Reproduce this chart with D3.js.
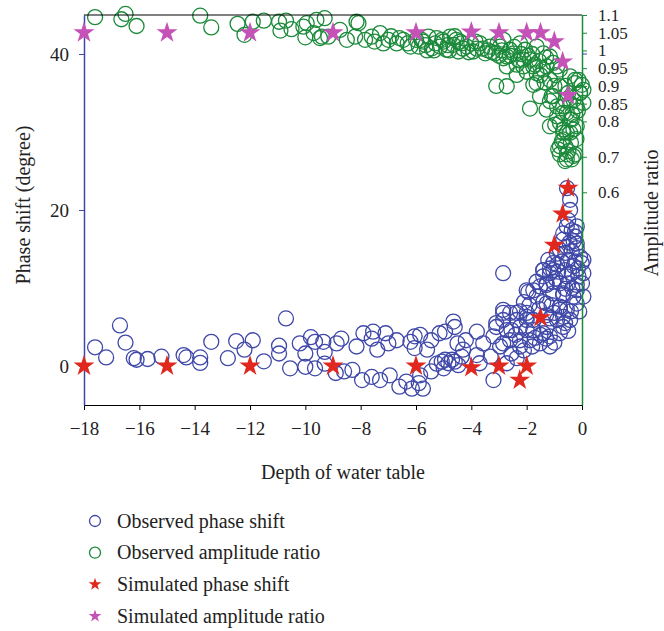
<!DOCTYPE html>
<html>
<head>
  <meta charset="utf-8">
  <script src="https://d3js.org/d3.v7.min.js"></script>
  <style>
    body { margin: 0; background: #fff; }
    text { font-family: "Liberation Serif", "DejaVu Serif", serif; }
  </style>
</head>
<body>
<script>
  // depth of water table ticks
  var depthTicks = [-18, -16, -14, -12, -10, -8, -6, -4, -2, 0];
  var phaseTicks = [0, 20, 40];
  var ratioTicks = [0.6, 0.7, 0.8, 0.85, 0.9, 0.95, 1, 1.05, 1.1];

  // simulated values
  var simPhaseDepth = [-18, -15, -12, -9, -6, -4, -3, -2.25, -2, -1.5, -1, -0.7, -0.5];
  var simPhase      = [0, 0, 0, 0, 0, -0.2, 0, -1.8, 0, 6.2, 15.5, 19.5, 22.8];
  var simRatioDepth = [-18, -15, -12, -9, -6, -4, -3, -2, -1.5, -1, -0.7, -0.5];
  var simRatio      = [1.05, 1.05, 1.05, 1.05, 1.05, 1.052, 1.05, 1.05, 1.05, 1.025, 0.968, 0.873];

  // observed phase shift [depth, degree]
  var obsPhase = [
    [-17.6,2.4],[-17.2,1.1],[-16.7,5.2],[-16.5,3.0],[-16.2,1.0],[-16.1,0.8],[-15.7,0.9],[-15.2,1.2],
    [-14.4,1.4],[-14.3,1.1],[-13.8,0.4],[-13.8,1.1],[-13.4,3.1],[-12.8,1.0],[-12.5,3.2],[-12.2,2.1],
    [-11.9,3.3],[-11.5,0.6],[-10.95,2.6],[-10.95,1.6],[-10.7,6.1],[-10.55,-0.3],[-10.2,2.9],[-10.0,1.6],
    [-10.0,-0.1],[-9.8,3.7],[-9.65,3.1],[-9.65,-0.3],[-9.35,3.1],[-9.3,1.8],[-9.3,0.3],
    [-8.87,2.9],[-8.7,3.5],[-8.15,2.5],[-7.9,4.2],[-7.6,3.5],[-7.55,4.4],[-7.4,2.1],[-7.1,4.2],
    [-7.0,2.9],[-6.7,3.3],[-6.2,3.1],[-6.05,3.8],[-5.85,4.0],[-6.05,2.3],[-5.6,2.1],[-5.45,3.3],
    [-5.15,4.2],[-4.95,4.4],[-4.65,5.7],[-4.6,5.0],[-4.5,2.9],[-4.2,3.3],[-3.8,4.4],[-3.57,2.9],
    [-3.2,3.8],[-3.1,5.5],[-2.85,6.8],[-2.85,2.9],[-2.55,4.6],[-2.36,5.9],[-2.24,3.3],[-2.0,6.8],
    [-2.0,4.6],[-2.55,1.6],[-2.36,1.0],[-3.3,1.2],
    [-8.9,-0.9],[-8.6,-0.7],[-8.3,-0.5],[-7.95,-1.8],[-7.6,-1.4],[-7.3,-1.8],[-6.95,-1.2],[-6.6,-2.65],
    [-6.35,-2.0],[-6.15,-2.9],[-5.9,-2.2],[-5.75,-2.9],[-5.85,-1.2],[-5.45,-0.7],[-5.25,0.3],[-5.07,0.55],
    [-4.95,0.8],[-4.83,0.35],[-4.7,0.8],[-4.6,0.55],[-4.47,0.1],[-4.35,1.2],[-5.0,-0.3],[-3.7,0.35],
    [-3.2,-1.8],[-3.8,1.4],[-2.72,0.35],[-4.3,2.1],[-2.96,2.5],
    [-2.85,11.9],[-0.55,17.9],[-0.37,17.4],[-0.25,16.6],[-0.68,16.2],[-0.9,14.4],[-0.8,14.9],[-0.55,15.3],
    [-0.37,14.7],[-0.19,15.1],[-0.07,14.0],[-1.22,13.6],[-1.04,13.2],[-0.73,13.4],[-0.5,13.6],[-0.25,13.4],
    [-0.01,13.2],[-1.4,12.3],[-1.16,11.9],[-0.86,12.1],[-0.61,12.3],[-0.37,11.9],[-0.13,11.5],[-1.76,9.7],
    [-1.94,9.5],[-1.52,10.2],[-1.28,10.6],[-1.04,10.8],[-0.8,10.6],[-0.5,10.6],[-0.19,10.4],[-1.04,9.3],
    [-0.68,9.1],[-0.31,8.9],[-1.4,8.2],[-1.1,7.8],[-0.8,7.6],[-0.55,7.2],[-0.19,8.0],[-2.6,6.8],
    [-2.24,7.0],[-2.0,6.3],[-1.76,5.9],[-1.16,6.1],[-0.9,5.9],[-0.61,5.5],[-1.28,5.0],[-2.24,5.0],
    [-2.72,4.6],[-1.4,4.2],[-1.16,3.8],[-1.52,2.9],[-1.16,2.5],[-0.8,4.2],[-0.68,5.0],[-1.88,3.3],
    [-2.24,2.5],[-2.6,3.3],[-2.85,5.9],[-3.1,5.0],[-2.85,7.2],[-2.36,6.8],[-2.0,5.9],[-1.76,4.6],
    [-0.68,6.3],[-0.43,5.9],[-1.28,8.0],[-0.8,7.2],[-1.64,8.9],[-1.28,10.4],[-0.68,9.3],[-0.19,9.7],
    [0.05,8.9],[0.05,11.9],[0.05,13.6],[-0.19,15.7],[-0.68,17.0],[-0.19,17.9],[-1.04,12.3],[-1.4,12.3],
    [-0.5,18.7],[-0.54,22.8],[-0.43,20.0],[-0.43,21.3],[-0.25,17.2],[-2.0,9.7],[-1.64,10.8],[-1.4,11.5],
    [-1.16,12.5],[0.0,10.6],
    [-0.3,16.0],[-0.45,15.8],[-0.6,14.5],[-0.3,12.8],[-0.15,12.5],[-0.9,13.0],[-0.55,11.5],[-0.95,11.2],
    [-0.35,10.0],[-0.6,9.9],[-0.1,7.0],[-0.4,7.0],[-1.0,6.8],[-1.3,6.5],[-1.55,7.3],[-1.9,7.8],
    [-2.1,8.2],[-1.5,4.0],[-1.0,3.0],[-1.3,3.5],[-0.5,4.5],[-1.7,3.6],[-2.4,4.0],[-2.1,2.0],[-1.8,2.5]
  ];

  // observed amplitude ratio [depth, ratio]
  var obsRatio = [
    [-17.6,1.094],[-16.65,1.088],[-16.5,1.103],[-16.1,1.069],[-13.8,1.098],[-13.4,1.065],[-12.45,1.075],
    [-12.2,1.044],[-11.9,1.081],[-11.5,1.084],[-10.95,1.081],[-10.9,1.056],[-10.7,1.084],[-10.5,1.06],
    [-10.07,1.067],[-10.0,1.037],[-9.7,1.049],[-9.6,1.086],[-9.3,1.091],[-9.47,1.035],[-9.17,1.039],
    [-9.95,1.077],[-9.4,1.039],[-8.75,1.058],[-8.5,1.03],[-8.08,1.077],[-8.2,1.039],[-7.84,1.03],
    [-7.6,1.039],[-7.3,1.049],[-7.18,1.02],[-7.0,1.03],[-6.7,1.02],[-6.46,1.03],[-6.2,1.011],[-5.9,1.011],
    [-5.74,1.025],[-5.55,1.039],[-5.43,1.006],[-5.25,1.035],[-5.13,1.011],[-5.0,1.025],[-4.9,1.002],
    [-4.77,1.039],[-4.65,1.016],[-4.47,0.997],[-4.41,1.025],[-4.17,1.011],[-3.93,0.997],[-3.69,1.02],
    [-3.5,0.992],[-3.33,1.011],[-3.14,0.992],[-2.96,1.011],[-2.84,0.978],[-2.72,0.955],[-2.48,0.992],
    [-2.3,0.974],[-2.06,1.002],[-2.12,0.955],[-3.1,0.9],[-8.15,1.081],
    [-6.0,1.03],[-5.6,1.0],[-5.3,1.02],[-4.85,1.015],[-4.55,1.03],[-4.3,1.005],[-4.0,1.02],[-3.8,1.005],
    [-3.4,1.0],[-3.0,0.985],
    [-1.88,0.836],[-1.76,0.903],[-2.36,0.96],[-2.72,0.983],[-1.88,0.974],[-1.64,0.936],[-1.4,0.992],
    [-1.28,0.955],[-1.16,0.917],[-0.9,0.955],[-0.8,0.899],[-1.1,0.871],[-0.9,0.842],[-0.68,0.824],
    [-0.43,0.805],[-0.43,0.852],[-0.25,0.917],[-0.07,0.88],[0.05,0.889],[0.05,0.852],[-0.19,0.786],
    [-0.43,0.768],[-0.68,0.749],[-0.8,0.73],[-0.8,0.707],[-0.55,0.693],[-0.31,0.702],[-0.49,0.716],
    [-0.68,0.768],[-1.16,0.786],[-0.8,0.796],
    [-1.64,0.908],[-2.36,0.931],[-2.72,0.899],[-1.04,0.871],[-1.16,0.857],[-0.9,0.814],[-0.97,0.791],
    [-0.68,0.842],[-0.55,0.824],[-0.37,0.805],[-0.19,0.842],[-0.07,0.88],[-0.01,0.903],[-0.25,0.908],
    [-0.31,0.777],[-0.55,0.768],[-0.73,0.744],[-0.86,0.721],[-0.55,0.707],[-0.37,0.693],[-0.25,0.707],
    [-0.61,0.688],[-0.68,0.777],[-1.52,0.871],[-1.28,0.833],[-1.4,0.946],[-1.76,0.955],[-2.12,0.974],
    [-2.6,1.002],[-2.84,1.03],[-2.24,1.02],[-1.64,1.011],[-1.16,0.983],[-0.8,0.946],[-0.43,0.927],
    [-0.13,0.917],
    [-7.5,1.025],[-6.9,1.04],[-6.6,1.035],[-6.3,1.02],[-5.8,1.03],[-5.65,1.015],[-5.35,1.0],[-5.05,1.03],
    [-4.8,1.0],[-4.6,1.04],[-4.35,1.02],[-4.1,0.995],[-3.85,1.025],[-3.6,1.005],[-3.25,0.995],[-3.05,1.02],
    [-2.9,1.0],[-2.6,0.985],[-2.45,1.01],[-2.2,0.99],[-1.95,0.985],[-1.8,0.99],[-1.55,0.97],[-1.3,0.98],
    [-1.05,0.965],[-0.95,0.93],[-0.6,0.9],[-0.5,0.88],[-0.3,0.86],[-0.15,0.83],[-0.35,0.82],[-0.6,0.86],
    [-0.2,0.75],[-0.4,0.74],[-0.6,0.73],[-1.0,0.9],[-1.35,0.91],[-1.5,0.93],[-2.0,0.94],[-1.7,0.96]
  ];

  var legendLabels = ["Observed phase shift", "Observed amplitude ratio", "Simulated phase shift", "Simulated amplitude ratio"];

  var BLUE = "#3f48a8", GREEN = "#1b8a3a", RED = "#e0281f", MAGENTA = "#c552b6";

  var svg = d3.select("body").append("svg")
      .attr("width", 664)
      .attr("height", 631);

  var x = d3.scaleLinear().domain([-18, 0]).range([84, 582]);
  var yL = d3.scaleLinear().domain([-5, 45]).range([405, 15]);
  var yR = d3.scaleLinear().domain([0, 1.1]).range([405, 15]);

  // observed circles
  svg.append("g").selectAll("circle")
      .data(obsPhase)
    .enter().append("circle")
      .attr("cx", function(d) { return x(d[0]); })
      .attr("cy", function(d) { return yL(d[1]); })
      .attr("r", 7.5)
      .attr("fill", "none")
      .attr("stroke", BLUE)
      .attr("stroke-width", 1.3);

  svg.append("g").selectAll("circle")
      .data(obsRatio)
    .enter().append("circle")
      .attr("cx", function(d) { return x(d[0]); })
      .attr("cy", function(d) { return yR(d[1]); })
      .attr("r", 7.5)
      .attr("fill", "none")
      .attr("stroke", GREEN)
      .attr("stroke-width", 1.3);

  // axes
  var xAxis = svg.append("g")
      .attr("transform", "translate(0,405)")
      .call(d3.axisBottom(x).tickValues(depthTicks).tickSize(5).tickSizeOuter(0).tickPadding(12));
  xAxis.selectAll("text").style("font-size", "19px").attr("fill", "#222");

  var leftAxis = svg.append("g")
      .attr("transform", "translate(84,0)")
      .call(d3.axisLeft(yL).tickValues(phaseTicks).tickSize(5).tickSizeOuter(0).tickPadding(10));
  leftAxis.select(".domain").attr("stroke", BLUE).attr("stroke-width", 1.5);
  leftAxis.selectAll(".tick line").attr("stroke", BLUE);
  leftAxis.selectAll("text").style("font-size", "19px").attr("fill", "#222");

  var rightAxis = svg.append("g")
      .attr("transform", "translate(582,0)")
      .call(d3.axisRight(yR).tickValues(ratioTicks).tickSize(5).tickSizeOuter(0).tickPadding(11)
        .tickFormat(function(d) { return String(d); }));
  rightAxis.select(".domain").attr("stroke", GREEN).attr("stroke-width", 1.5);
  rightAxis.selectAll(".tick line").attr("stroke", GREEN);
  rightAxis.selectAll("text").style("font-size", "17px").attr("fill", "#222");

  svg.append("line")
      .attr("x1", 582).attr("x2", 587)
      .attr("y1", yL(40)).attr("y2", yL(40))
      .attr("stroke", BLUE);

  svg.append("line")
      .attr("x1", x(-18)).attr("x2", x(0))
      .attr("y1", 15).attr("y2", 15)
      .attr("stroke", "#000");

  // simulated stars
  var star = d3.symbol().type(d3.symbolStar).size(136);

  svg.append("g").selectAll("path")
      .data(simPhaseDepth)
    .enter().append("path")
      .attr("d", star)
      .attr("transform", function(d, i) { return "translate(" + x(d) + "," + yL(simPhase[i]) + ")"; })
      .attr("fill", RED);

  svg.append("g").selectAll("path")
      .data(simRatioDepth)
    .enter().append("path")
      .attr("d", star)
      .attr("transform", function(d, i) { return "translate(" + x(d) + "," + yR(simRatio[i]) + ")"; })
      .attr("fill", MAGENTA);

  // axis titles
  svg.append("text")
      .attr("transform", "translate(30,205) rotate(-90)")
      .attr("text-anchor", "middle")
      .style("font-size", "20px")
      .attr("fill", "#222")
      .text("Phase shift (degree)");

  svg.append("text")
      .attr("transform", "translate(658,213) rotate(-90)")
      .attr("text-anchor", "middle")
      .style("font-size", "20px")
      .attr("fill", "#222")
      .text("Amplitude ratio");

  svg.append("text")
      .attr("x", 343)
      .attr("y", 479)
      .attr("text-anchor", "middle")
      .style("font-size", "20px")
      .attr("fill", "#222")
      .text("Depth of water table");

  // legend
  var legend = svg.append("g").selectAll("g")
      .data(legendLabels)
    .enter().append("g")
      .attr("transform", function(d, i) { return "translate(95," + (521 + i * 31.7) + ")"; });

  legend.each(function(d, i) {
    var g = d3.select(this);
    if (i < 2) {
      g.append("circle").attr("r", 5.5).attr("fill", "none")
        .attr("stroke", i === 0 ? BLUE : GREEN).attr("stroke-width", 1.3);
    } else {
      g.append("path").attr("d", d3.symbol().type(d3.symbolStar).size(50))
        .attr("fill", i === 2 ? RED : MAGENTA);
    }
  });

  legend.append("text")
      .attr("x", 22)
      .attr("y", 6.5)
      .style("font-size", "20px")
      .attr("fill", "#222")
      .text(function(d) { return d; });
</script>
</body>
</html>
